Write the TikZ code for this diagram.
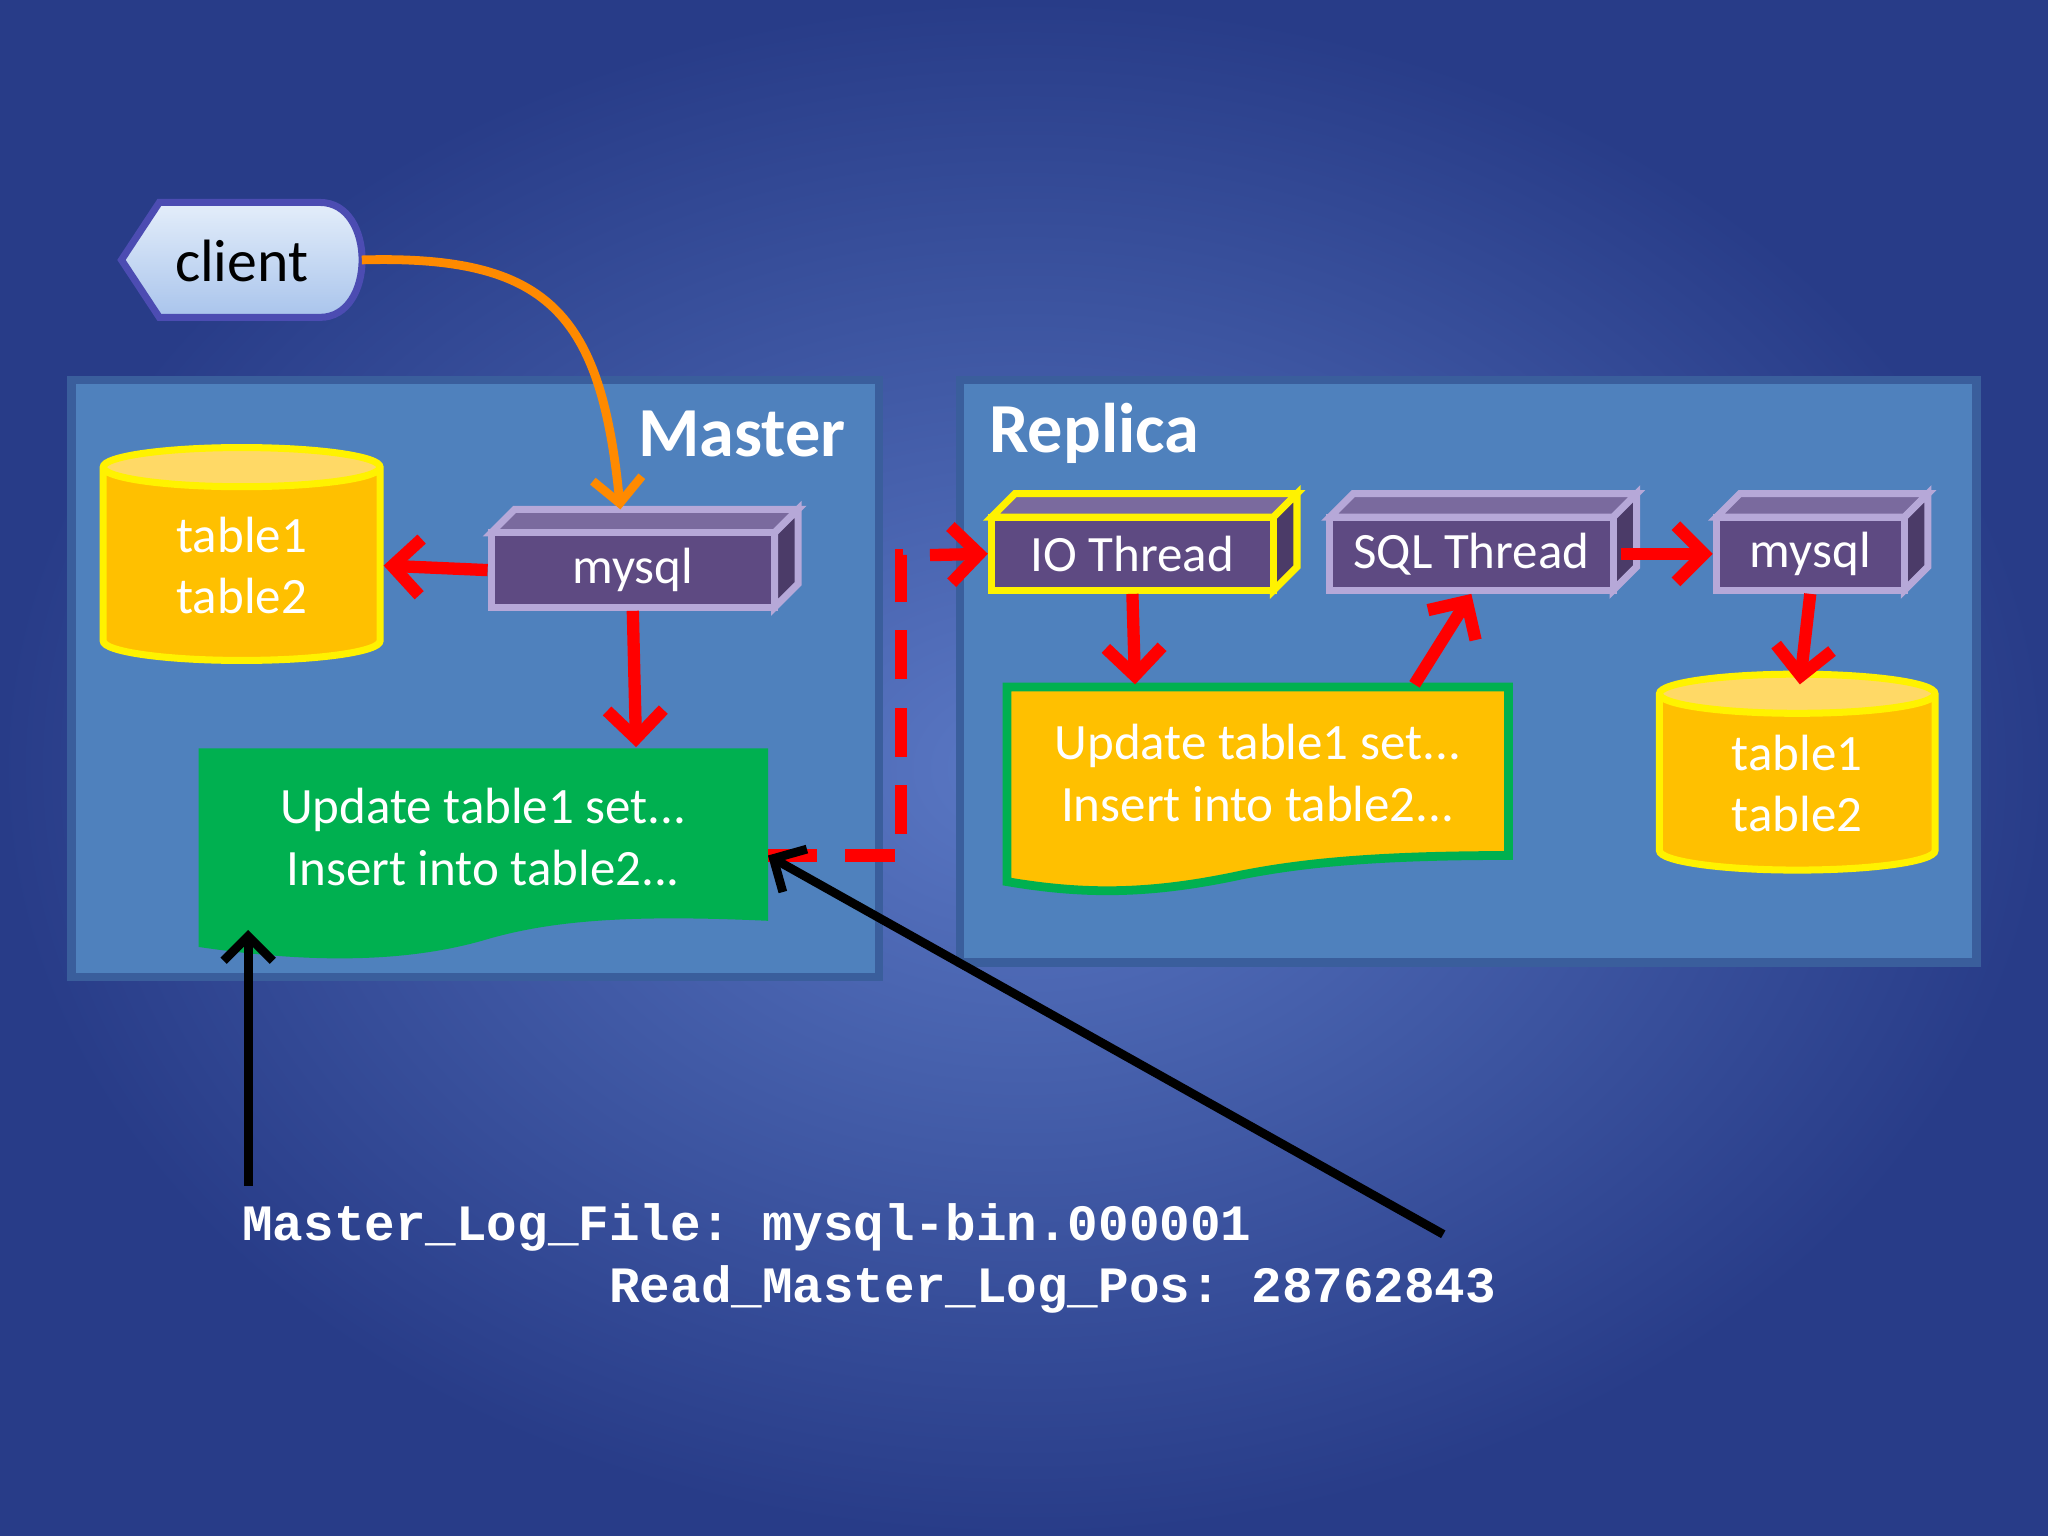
\documentclass[tikz,border=0pt]{standalone}
\usepackage{fontspec}
\setmainfont{Carlito}
\newfontfamily\monof{Liberation Mono}
\usetikzlibrary{shapes.geometric,arrows.meta,calc}
\definecolor{bgc}{HTML}{5A78C4}
\definecolor{bge}{HTML}{283C88}
\definecolor{boxf}{HTML}{4F81BD}
\definecolor{boxb}{HTML}{3A5E9C}
\definecolor{cub}{HTML}{5E4A82}
\definecolor{cubtop}{HTML}{7A6A9E}
\definecolor{cubb}{HTML}{B6A8D8}
\definecolor{gold}{HTML}{FFC000}
\definecolor{goldtop}{HTML}{FFD966}
\definecolor{docg}{HTML}{00B050}
\definecolor{redc}{HTML}{FF0000}
\definecolor{clt}{HTML}{E4EEFA}
\definecolor{clb}{HTML}{A9C4EC}
\tikzset{
 panel/.style={fill=boxf,draw=boxb,line width=2.5pt},
 title/.style={text=white,font=\bfseries\fontsize{20}{24}\selectfont},
 txt/.style={text=white,font=\fontsize{14.5}{17.5}\selectfont,align=center},
 cyl/.style={cylinder,shape border rotate=90,aspect=0.3,draw=yellow,line width=2pt,cylinder uses custom fill,cylinder body fill=gold,cylinder end fill=goldtop,txt,inner sep=0pt},
 cube/.style={fill=cub,draw=cubb,line width=2pt,txt,inner sep=0pt},
 rarr/.style={draw=redc,line width=3.5pt,-{Straight Barb[length=8pt,width=16pt,line width=3.5pt]}},
 barr/.style={draw=black,line width=2.5pt,-{Straight Barb[length=7pt,width=14pt,line width=2.5pt]}},
 mono/.style={text=white,font=\frenchspacing\monof\bfseries\fontsize{14.5}{18}\selectfont,anchor=west}
}
\newcommand\mycube[6]{% name, x1,y1,x2,y2, border
 \fill[cubtop,draw=#6,line width=2pt] (#2,#3)--(#2+18,#3-18)--(#4+18,#3-18)--(#4,#3)--cycle;
 \fill[cub!80!black,draw=#6,line width=2pt] (#4,#3)--(#4+18,#3-18)--(#4+18,#5-18)--(#4,#5)--cycle;
}
\begin{document}
\begin{tikzpicture}[x=0.013061cm,y=-0.013061cm]
\useasboundingbox (0,0) rectangle (1568,1176);
\shade[inner color=bgc,outer color=bge] (0,0) rectangle (1568,1176);
% panels
\draw[panel] (55,291) rectangle (673,748);
\draw[panel] (735,291) rectangle (1513,737);
\node[title,anchor=east] (mt) at (657,332) {Master};
\node[title,anchor=west] (rt) at (748,332) {Replica};
% client
\shade[top color=clt,bottom color=clb,draw=blue!40!gray,line width=2pt] (93,199)--(122,155)--(245,155) .. controls (288,155) and (288,243) .. (245,243)--(122,243)--cycle;
\node[font=\fontsize{17}{20}\selectfont] (client) at (185,200) {client};
\coordinate (cl) at (277,199);
% master cylinder
\node[cyl,minimum width=212*0.013061cm,minimum height=163*0.013061cm] (cyl1) at (185,433) {table1\\table2};
% master cube
\mycube{m}{376}{408}{593}{465}{cubb}
\node[cube,minimum width=217*0.013061cm,minimum height=57*0.013061cm] (mysql1) at (484.5,436.5) {mysql};
% green doc
\fill[docg] (152,573)--(588,573)--(588,705) .. controls (480,700) and (420,705) .. (370,720) .. controls (300,740) and (220,735) .. (152,725)--cycle;
\node[txt] (doc1) at (370,641) {Update table1 set...\\Insert into table2...};
\coordinate (d1r) at (588,655);
\coordinate (d1b) at (190,712);
% IO thread
\mycube{io}{759}{396}{975}{452}{yellow}
\node[cube,draw=yellow,minimum width=216*0.013061cm,minimum height=56*0.013061cm] (io) at (867,424) {IO Thread};
\mycube{sq}{1018}{396}{1235}{452}{cubb}
\node[cube,minimum width=217*0.013061cm,minimum height=56*0.013061cm] (sql) at (1126.5,424) {SQL Thread};
\mycube{m2}{1314}{396}{1458}{452}{cubb}
\node[cube,minimum width=144*0.013061cm,minimum height=56*0.013061cm] (mysql2) at (1386,424) {mysql};
% yellow doc
\fill[gold,draw=docg,line width=2.5pt] (771,526)--(1155,526)--(1155,655) .. controls (1060,655) and (1000,660) .. (950,670) .. controls (880,685) and (830,685) .. (771,675)--cycle;
\node[txt] (doc2) at (963,592) {Update table1 set...\\Insert into table2...};
% replica cylinder
\node[cyl,minimum width=211*0.013061cm,minimum height=150*0.013061cm] (cyl2) at (1376,600) {table1\\table2};
% arrows
\draw[draw=orange!80!yellow!90!red,line width=2.5pt,-{Straight Barb[length=7pt,width=14pt,line width=2.5pt]}] (cl) .. controls (420,195) and (460,240) .. (475,390);
\draw[rarr] (mysql1.west) -- (cyl1.east);
\draw[rarr] (mysql1.south) -- (487,572);
\draw[draw=redc,line width=3.5pt,dash pattern=on 14pt off 8pt] (d1r) -- (690,655) -- (690,425) -- (705,425);
\draw[rarr] (712,425) -- (io.west);
\draw[rarr] (io.south) -- (869,524);
\draw[rarr] (1083,524) -- (sql.south);
\draw[rarr] (1241,424) -- (mysql2.west);
\draw[rarr] (mysql2.south) -- (1378,524);
% labels
\node[mono] (l1) at (176,940) {Master\_Log\_File: mysql-bin.000001};
\node[mono] (l2) at (457,987) {Read\_Master\_Log\_Pos: 28762843};
\coordinate (b1) at (190,908);
\coordinate (b2) at (1105,945);
\draw[barr] (b1) -- (d1b);
\draw[barr] (b2) -- (d1r);
\end{tikzpicture}
\end{document}
